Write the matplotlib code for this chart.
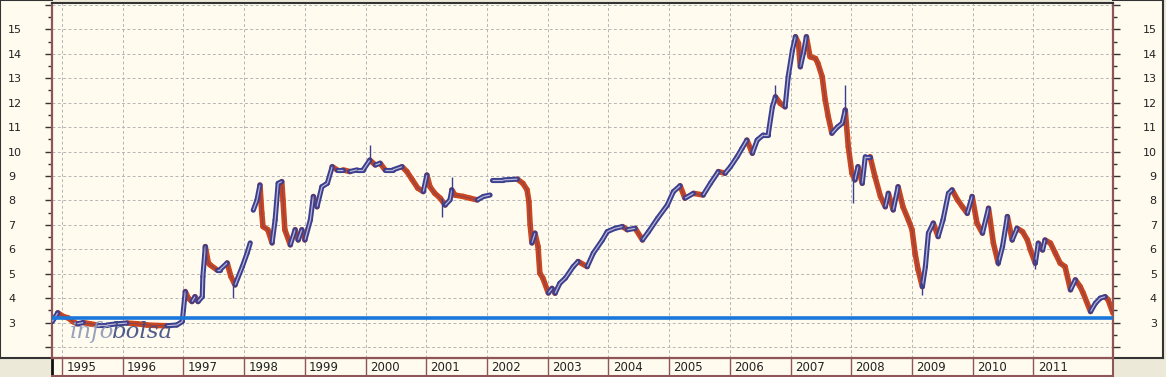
import numpy as np
import matplotlib.pyplot as plt
from matplotlib.collections import LineCollection
from matplotlib.ticker import FixedLocator, MultipleLocator, FuncFormatter

# price series (fractional year, price); None marks a gap
dates = [
    1994.84, 1994.93, 1995.02, 1995.10, 1995.18, 1995.25, 1995.35, 1995.46, 1995.58, 1995.74,
    1995.91, 1996.07, 1996.24, 1996.40, 1996.57, 1996.73, 1996.89, 1996.98, 1997.00, 1997.03,
    1997.08, 1997.14, 1997.19, 1997.24, 1997.31, 1997.32, 1997.36, 1997.41, 1997.44, 1997.55,
    1997.60, 1997.72, 1997.78, 1997.85, 1997.97, 1998.05, 1998.10, 1998.12,
    1998.15, 1998.21, 1998.26, 1998.29, 1998.31, 1998.39, 1998.46, 1998.51, 1998.56, 1998.62,
    1998.64, 1998.67, 1998.76, 1998.84, 1998.89, 1998.95, 1999.00, 1999.09, 1999.14, 1999.20,
    1999.28, 1999.37, 1999.45, 1999.53, 1999.63, 1999.74, 1999.86, 1999.96, 2000.07, 2000.16,
    2000.24, 2000.32, 2000.45, 2000.60, 2000.68, 2000.77, 2000.86, 2000.95, 2001.01, 2001.06,
    2001.14, 2001.23, 2001.31, 2001.39, 2001.42, 2001.47, 2001.61, 2001.72, 2001.84, 2001.94,
    2002.05, 2002.06,
    2002.08, 2002.27, 2002.50, 2002.59, 2002.66, 2002.69, 2002.71, 2002.74, 2002.79, 2002.84,
    2002.87, 2002.92, 2003.01, 2003.07, 2003.12, 2003.20, 2003.29, 2003.42, 2003.50, 2003.65,
    2003.75, 2003.90, 2003.98, 2004.11, 2004.23, 2004.31, 2004.44, 2004.56, 2004.66, 2004.81,
    2004.97, 2005.07, 2005.18, 2005.26, 2005.40, 2005.56, 2005.68, 2005.81, 2005.92, 2006.01,
    2006.12, 2006.20, 2006.28, 2006.37, 2006.45, 2006.55, 2006.63, 2006.70, 2006.75, 2006.83,
    2006.91, 2006.96, 2007.03, 2007.08, 2007.13, 2007.16, 2007.21, 2007.26, 2007.32, 2007.41,
    2007.45, 2007.52, 2007.57, 2007.62, 2007.68, 2007.77, 2007.85, 2007.90, 2007.95, 2008.01,
    2008.06, 2008.11, 2008.18, 2008.23, 2008.31, 2008.39, 2008.48, 2008.56, 2008.61, 2008.69,
    2008.77, 2008.85, 2008.94, 2009.00, 2009.05, 2009.10, 2009.17, 2009.22, 2009.27, 2009.35,
    2009.43, 2009.51, 2009.60, 2009.66, 2009.75, 2009.83, 2009.91, 2009.99, 2010.07, 2010.16,
    2010.26, 2010.34, 2010.42, 2010.49, 2010.57, 2010.65, 2010.73, 2010.82, 2010.90, 2010.95,
    2011.03, 2011.08, 2011.15, 2011.19, 2011.28, 2011.36, 2011.44, 2011.52, 2011.61, 2011.69,
    2011.77, 2011.82, 2011.94, 2012.02, 2012.10, 2012.18, 2012.23, 2012.31,
]
prices = [
    3.04, 3.40, 3.25, 3.19, 3.04, 2.95, 3.00, 2.95, 2.90, 2.90,
    2.95, 2.98, 2.95, 2.90, 2.88, 2.87, 2.90, 3.04, 3.52, 4.27,
    4.00, 3.86, 4.06, 3.86, 4.06, 4.88, 6.11, 5.44, 5.36, 5.16,
    5.16, 5.44, 4.90, 4.54, 5.29, 5.85, 6.26, None,
    7.60, 8.00, 8.63, 7.49, 6.93, 6.80, 6.26, 7.20, 8.70, 8.77,
    8.00, 6.80, 6.18, 6.80, 6.38, 6.80, 6.38, 7.20, 8.16, 7.74,
    8.56, 8.70, 9.38, 9.25, 9.25, 9.18, 9.25, 9.25, 9.65, 9.45,
    9.52, 9.25, 9.25, 9.38, 9.18, 8.84, 8.50, 8.36, 9.04, 8.56,
    8.29, 8.09, 7.81, 8.02, 8.43, 8.22, 8.16, 8.09, 8.02, 8.16,
    8.22, None,
    8.84, 8.84, 8.87, 8.70, 8.43, 7.95, 7.00, 6.26, 6.66, 6.11,
    5.02, 4.82, 4.21, 4.40, 4.20, 4.61, 4.82, 5.29, 5.50, 5.29,
    5.84, 6.38, 6.72, 6.86, 6.93, 6.80, 6.86, 6.38, 6.72, 7.27,
    7.81, 8.36, 8.60, 8.09, 8.29, 8.22, 8.70, 9.18, 9.11, 9.38,
    9.79, 10.13, 10.47, 9.93, 10.47, 10.68, 10.68, 11.83, 12.24, 11.97,
    11.83, 13.06, 14.15, 14.70, 14.43, 13.47, 14.02, 14.70, 13.88, 13.81,
    13.61, 13.06, 12.11, 11.43, 10.75, 11.00, 11.16, 11.70, 10.20, 9.11,
    8.84, 9.38, 8.70, 9.79, 9.79, 8.97, 8.16, 7.74, 8.29, 7.61,
    8.56, 7.74, 7.20, 6.80, 5.84, 5.16, 4.47, 5.29, 6.66, 7.07,
    6.52, 7.20, 8.29, 8.43, 8.02, 7.74, 7.47, 8.16, 7.07, 6.66,
    7.68, 6.25, 5.43, 6.11, 7.34, 6.38, 6.86, 6.72, 6.38, 5.97,
    5.43, 6.25, 5.97, 6.38, 6.25, 5.84, 5.43, 5.29, 4.34, 4.75,
    4.47, 4.20, 3.45, 3.79, 4.00, 4.06, 3.93, 3.38,
]

# isolated high/low wicks
wick_dates = [1997.82, 2000.07, 2001.26, 2001.42, 2006.75, 2007.90, 2008.03, 2009.17, 2010.41, 2011.03]
wick_lows = [4.00, 9.60, 7.34, 8.22, 12.20, 11.60, 7.90, 4.13, 5.30, 5.20]
wick_highs = [4.50, 10.26, 8.10, 8.97, 12.72, 12.72, 9.10, 4.60, 5.60, 5.60]

support_level = 3.2
years = list(range(1995, 2012))

cream = "#FFFBEE"
maroon = "#8E5656"
dark = "#333333"
navy = "#3B3F8E"
red = "#C9461F"

fig = plt.figure(figsize=(11.66, 3.77), dpi=100, facecolor="#ECE9D8")
W, H = 1166.0, 377.0

# side panels
left_panel = fig.add_axes([0, 19 / H, 52 / W, 358 / H], zorder=0)
right_panel = fig.add_axes([1113 / W, 19 / H, 50 / W, 358 / H], zorder=0)
for p, side in [(left_panel, "right"), (right_panel, "left")]:
    p.set_facecolor(cream)
    p.set_xticks([])
    p.set_yticks([])
    for s in p.spines.values():
        s.set_color(dark)
        s.set_linewidth(1.5)
    p.spines[side].set_visible(False)

ax = fig.add_axes([52 / W, 19 / H, 1061 / W, 355 / H], zorder=2)
ax.set_facecolor(cream)
ax.set_xlim(1994.835, 2012.31)
ax.set_ylim(1.55, 16.08)

# price segments coloured by direction: red for falling, hollow navy for rising
segs, falling = [], []
for i in range(len(dates) - 1):
    if prices[i] is None or prices[i + 1] is None:
        continue
    segs.append([(dates[i], prices[i]), (dates[i + 1], prices[i + 1])])
    falling.append(prices[i + 1] < prices[i])
up = [s for s, f in zip(segs, falling) if not f]
down = [s for s, f in zip(segs, falling) if f]
ax.add_collection(LineCollection(down, colors=red, linewidths=4.0, capstyle="round", zorder=3))
ax.add_collection(LineCollection(up, colors=navy, linewidths=3.7, capstyle="round", zorder=3))
ax.add_collection(LineCollection(up, colors="#B9B6D6", linewidths=0.9, capstyle="butt", zorder=4))
ax.add_collection(LineCollection(down, colors="#5A3F7A", linewidths=0.6, alpha=0.7, zorder=4))
ax.vlines(wick_dates, wick_lows, wick_highs, colors=navy, linewidth=1.0, zorder=5)

ax.axhline(support_level, color="#1A78DC", linewidth=2.6, zorder=6)

# watermark
t1 = ax.text(1995.13, 2.37, "info", family="DejaVu Serif", style="italic", fontsize=16.5,
             color="#8C9AB8", alpha=0.9, va="baseline", zorder=7)
ax.annotate("bolsa", xy=(1, 0), xycoords=t1, xytext=(-2, 0), textcoords="offset points",
            family="DejaVu Serif", style="italic", fontsize=16.5, color="#3C4C84", alpha=0.9,
            va="bottom", zorder=7)

# grid
ax.yaxis.set_major_locator(FixedLocator(range(2, 17)))
ax.yaxis.set_minor_locator(MultipleLocator(0.5))
ax.xaxis.set_major_locator(FixedLocator(years))
ax.grid(True, which="major", color="#B5B5B5", linestyle=(0, (3, 2.5)), linewidth=0.7)
ax.set_axisbelow(True)

ax.yaxis.set_major_formatter(FuncFormatter(lambda v, p: "" if v in (2, 16) else f"{int(v)}"))
ax.tick_params(axis="y", which="major", direction="out", length=5, width=1, color=dark,
               left=True, right=True, labelleft=True, labelright=True,
               labelsize=8, pad=26.5, labelcolor="#222222")
ax.tick_params(axis="y", which="minor", direction="out", length=3, width=1, color=dark,
               left=True, right=True)
for lbl in ax.get_yticklabels():
    lbl.set_horizontalalignment("left")
for t in ax.yaxis.get_major_ticks():
    t.label2.set_horizontalalignment("right")
ax.tick_params(axis="x", bottom=False, labelbottom=False)

for s in ["left", "right", "bottom"]:
    ax.spines[s].set_color(maroon)
    ax.spines[s].set_linewidth(1.6)
ax.spines["top"].set_color(dark)
ax.spines["top"].set_linewidth(1.5)

# bottom year strip
strip = fig.add_axes([52 / W, 1 / H, 1061 / W, 18 / H], zorder=1)
strip.set_facecolor(cream)
strip.set_xlim(ax.get_xlim())
strip.set_ylim(0, 1)
strip.set_xticks([])
strip.set_yticks([])
for s in strip.spines.values():
    s.set_color(maroon)
    s.set_linewidth(1.5)
strip.spines["left"].set_color("#111111")
strip.spines["left"].set_linewidth(2)
for y in years:
    strip.axvline(y, color=maroon, linewidth=1)
    strip.text(y + 0.07, 0.45, str(y), fontsize=8.5, color="#222222", ha="left", va="center")

fig.savefig("out.png", dpi=100, facecolor=fig.get_facecolor())
